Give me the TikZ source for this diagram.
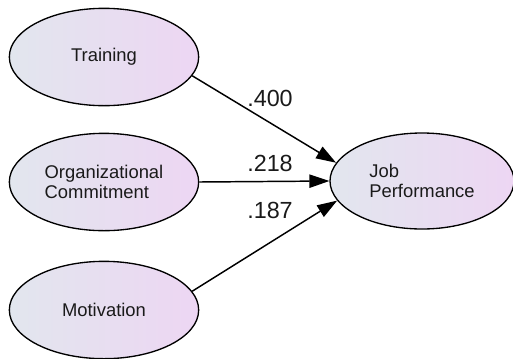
\documentclass[tikz,border=0pt]{standalone}
\usepackage{fontspec}
\setmainfont{Liberation Sans}
\usepackage{xcolor}
\usepackage{tikz}
\usetikzlibrary{arrows.meta,shapes.geometric}
\definecolor{latentL}{HTML}{E2E6EE}
\definecolor{latentR}{HTML}{EDD6F3}
\definecolor{ink}{HTML}{1A1A1A}

\begin{document}
\begin{tikzpicture}[x=0.75pt,y=-0.75pt,
  latent/.style={ellipse,draw,line width=1pt,inner sep=0pt,
    minimum width=142pt,minimum height=73pt,
    left color=latentL,right color=latentR,
    text=ink,font=\fontsize{13.8}{15.5}\selectfont,align=left},
  effect/.style={-{Triangle[length=15pt,width=10pt]},line width=1.1pt},
  coef/.style={text=ink,font=\fontsize{17.5}{20}\selectfont}]
  \useasboundingbox (0,0) rectangle (513,358);
  \node[latent] (train) at (104,57) {Training};
  \node[latent] (orgcom) at (104,182) {Organizational\\Commitment};
  \node[latent] (motiv) at (104,310) {Motivation};
  \node[latent,minimum width=138pt,minimum height=72pt] (jobperf) at (422,181) {Job\\Performance};
  \draw[effect] (train.-12) -- (jobperf.168);
  \draw[effect] (orgcom.east) -- (jobperf.west);
  \draw[effect] (motiv.12) -- (jobperf.193);
  \node[coef] (c400) at (270,98) {.400};
  \node[coef] (c218) at (270,163) {.218};
  \node[coef] (c187) at (270,210) {.187};
\end{tikzpicture}
\end{document}
